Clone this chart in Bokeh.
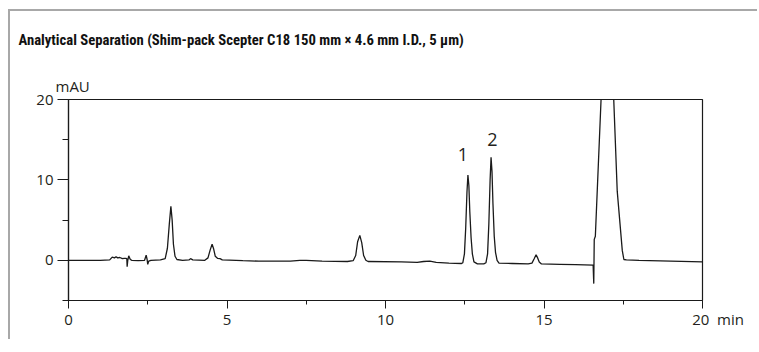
from bokeh.plotting import figure
from bokeh.models import FixedTicker, Label, Range1d, Title
from bokeh.embed import file_html
from bokeh.resources import INLINE

# ---- data ----
time_min = [0.0, 1.0, 1.30, 1.38, 1.45, 1.50, 1.55, 1.62, 1.70, 1.76, 1.80, 1.84, 1.85, 1.87, 1.90,
            1.95, 2.00, 2.20, 2.40, 2.45, 2.48, 2.50, 2.53, 2.60, 2.90, 3.05, 3.12, 3.18, 3.23, 3.27,
            3.31, 3.36, 3.42, 3.60, 3.80, 3.85, 3.92, 4.30, 4.40, 4.47, 4.53, 4.58, 4.63, 4.70, 4.78,
            4.85, 5.50, 6.00, 7.00, 7.30, 7.50, 8.00, 8.80, 8.98, 9.06, 9.12, 9.19, 9.25, 9.31, 9.38,
            9.45, 10.50, 11.00, 11.20, 11.40, 11.60, 12.00, 12.40, 12.44, 12.49, 12.53, 12.57, 12.60,
            12.63, 12.66, 12.70, 12.74, 12.79, 12.90, 13.10, 13.17, 13.22, 13.26, 13.30, 13.33, 13.36,
            13.39, 13.43, 13.47, 13.52, 13.58, 14.00, 14.50, 14.62, 14.69, 14.75, 14.80, 14.85, 14.92,
            15.50, 16.00, 16.55, 16.57, 16.585, 16.62, 16.80, 17.02, 17.20, 17.31, 17.47, 17.52, 17.60,
            18.00, 19.00, 20.00]
absorbance_mau = [0.0, 0.0, 0.05, 0.4, 0.3, 0.45, 0.3, 0.35, 0.2, 0.25, 0.25, 0.2, -0.8, 0.0, 0.55,
                  0.1, 0.0, -0.05, 0.0, 0.65, 0.1, -0.5, -0.1, 0.0, 0.05, 0.2, 1.5, 4.5, 6.7, 5.0,
                  2.0, 0.5, 0.1, 0.0, 0.05, 0.2, 0.05, 0.0, 0.3, 1.3, 2.0, 1.4, 0.5, 0.25, 0.2,
                  0.05, -0.05, -0.1, -0.1, 0.0, -0.02, -0.1, -0.15, -0.05, 0.6, 2.3, 3.1, 2.2, 0.6, 0.0,
                  -0.15, -0.2, -0.25, -0.15, -0.1, -0.25, -0.35, -0.4, -0.3, 0.8, 4.0, 8.5, 10.6,
                  9.3, 6.0, 2.8, 0.8, -0.2, -0.45, -0.45, -0.3, 0.8, 4.5, 10.0, 12.8, 11.0,
                  7.0, 3.0, 1.0, 0.0, -0.35, -0.4, -0.45, -0.35, 0.2, 0.7, 0.3, -0.2, -0.45,
                  -0.5, -0.55, -0.6, -2.9, 2.6, 3.0, 20.0, 38.0, 20.0, 8.6, 1.2, 0.1, 0.05,
                  0.0, -0.1, -0.2]

x_ticks = [0, 5, 10, 15, 20]
x_tick_labels = ["0", "5", "10", "15", "20"]
x_minor_ticks = [2.5, 7.5, 12.5, 17.5]
y_ticks = [0, 10, 20]
y_minor_ticks = [-5, 5, 15]
peak_names = ["1", "2"]
peak_label_time = [12.44, 13.37]
peak_label_value = [13.1, 15.05]

title_text = "Analytical Separation (Shim-pack Scepter C18 150 mm \u00d7 4.6 mm I.D., 5 \u03bcm)"
y_unit = "mAU"
x_unit = "min"

FONT = "Open Sans"
TITLE_FONT = "'Liberation Sans Narrow', 'Roboto Condensed', Roboto"
TXT = "#231f20"

p = figure(width=749, height=330, x_range=Range1d(0, 20), y_range=Range1d(-5, 20),
           output_backend="svg", toolbar_location=None,
           min_border_left=58, min_border_right=57, min_border_top=86, min_border_bottom=41)
p.styles = {"margin-left": "8px", "margin-top": "9px",
            "border-left": "2px solid #a8a8a8", "border-top": "2px solid #a8a8a8"}

p.line(time_min, absorbance_mau, line_color="#1a1a1a", line_width=1.3)

p.grid.visible = False
p.outline_line_color = "#1a1a1a"
p.outline_line_width = 1.2

for ax in (p.xaxis[0], p.yaxis[0]):
    ax.axis_line_color = "#1a1a1a"
    ax.axis_line_width = 1.2
    ax.major_tick_line_color = "#1a1a1a"
    ax.minor_tick_line_color = "#1a1a1a"
    ax.major_tick_in = 0
    ax.minor_tick_in = 0
    ax.major_label_text_font = FONT
    ax.major_label_text_font_size = "15px"
    ax.major_label_text_color = TXT

# x tick labels; the last one carries the unit, padded so that "20" stays centred on its tick
pad = "\u00a0" * 8
overrides = {t: lab for t, lab in zip(x_ticks, x_tick_labels)}
overrides[x_ticks[-1]] = pad + x_tick_labels[-1] + "\u00a0\u00a0" + x_unit
p.xaxis.ticker = FixedTicker(ticks=x_ticks, minor_ticks=x_minor_ticks)
p.xaxis.major_label_overrides = overrides
p.xaxis.major_tick_out = 8
p.xaxis.minor_tick_out = 4
p.xaxis.major_label_standoff = 0

p.yaxis.ticker = FixedTicker(ticks=y_ticks, minor_ticks=y_minor_ticks)
p.yaxis.major_tick_out = 11
p.yaxis.minor_tick_out = 6
p.yaxis.major_label_standoff = 4

# main title (outermost) and unit label (next to the frame)
p.title.text = title_text
p.title.text_font = TITLE_FONT
p.title.text_font_style = "bold"
p.title.text_font_size = "14.7px"
p.title.text_color = "#111111"
p.title.align = "left"
p.title.vertical_align = "top"
p.title.offset = -50
p.title.standoff = 39

unit_title = Title(text=y_unit, align="left", offset=-13, standoff=7, text_font=FONT,
                   text_font_size="15px", text_font_style="normal", text_color=TXT)
p.add_layout(unit_title, "above")

for name, t, v in zip(peak_names, peak_label_time, peak_label_value):
    p.add_layout(Label(x=t, y=v, text=name, text_font=FONT, text_font_size="18px",
                       text_color=TXT, text_align="center", text_baseline="alphabetic"))

open("out.html", "w").write(file_html(p, INLINE))
